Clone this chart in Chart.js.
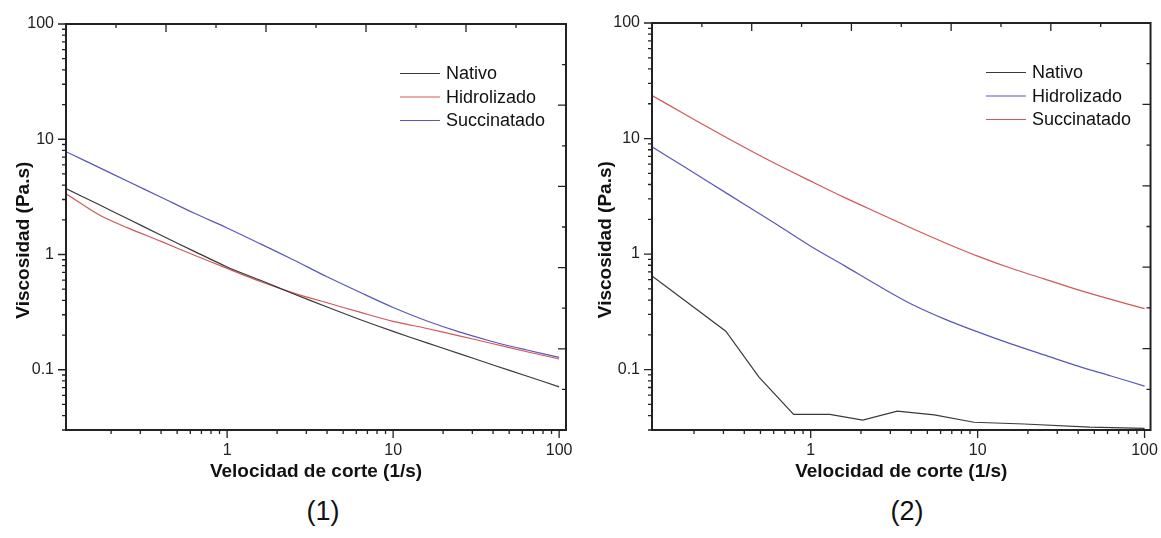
<!DOCTYPE html>
<html>
<head>
<meta charset="utf-8">
<script src="https://cdn.jsdelivr.net/npm/chart.js@4.4.1/dist/chart.umd.min.js"></script>
<style>
  body { margin: 0; background: #fff; width: 1161px; height: 538px; position: relative; overflow: hidden; font-family: "Liberation Sans", Arial, sans-serif; }
  canvas { position: absolute; top: 0; }
  #chart1 { left: 0; }
  #chart2 { left: 580px; }
  .caption { position: absolute; top: 496px; font-size: 27px; line-height: 30px; color: #111; transform: translateX(-50%); }
</style>
</head>
<body>
<canvas id="chart1" width="580" height="490"></canvas>
<canvas id="chart2" width="581" height="490"></canvas>
<div class="caption" style="left:323px">(1)</div>
<div class="caption" style="left:907px">(2)</div>
<script>
// (1) shear rate vs viscosity
const shearRate1 = [0.107, 0.17, 0.25, 0.4, 0.63, 1, 1.6, 2.5, 4, 6.3, 10, 16, 25, 40, 63, 100];
const nativo1 = [3.73, 2.70, 2.05, 1.47, 1.07, 0.78, 0.594, 0.457, 0.35, 0.273, 0.215, 0.171, 0.138, 0.110, 0.0887, 0.071];
const hidrolizado1 = [3.37, 2.2, 1.71, 1.30, 0.99, 0.757, 0.58, 0.465, 0.381, 0.316, 0.263, 0.228, 0.197, 0.168, 0.144, 0.124];
const succinatado1 = [7.8, 5.67, 4.34, 3.14, 2.29, 1.70, 1.23, 0.90, 0.64, 0.47, 0.347, 0.265, 0.213, 0.175, 0.149, 0.128];

// (2)
const shearRate2 = [0.112, 0.17, 0.25, 0.4, 0.63, 1, 1.6, 2.5, 4, 6.3, 10, 16, 25, 40, 63, 100];
const nativoShear2 = [0.112, 0.31, 0.49, 0.79, 1.3, 2.05, 3.3, 5.5, 9.5, 19, 47, 100];
const nativo2 = [0.645, 0.215, 0.086, 0.041, 0.041, 0.0366, 0.0437, 0.0405, 0.035, 0.0338, 0.0318, 0.031];
const hidrolizado2 = [8.5, 5.83, 4.12, 2.70, 1.79, 1.17, 0.79, 0.54, 0.37, 0.275, 0.212, 0.166, 0.134, 0.107, 0.088, 0.072];
const succinatado2 = [23.6, 16.7, 12.2, 8.4, 5.95, 4.28, 3.08, 2.29, 1.68, 1.26, 0.96, 0.75, 0.61, 0.49, 0.405, 0.337];

const seriesNames = ['Nativo', 'Hidrolizado', 'Succinatado'];
const xTickValues = [1, 10, 100];
const yTickValues = [0.1, 1, 10, 100];

const BLACK = '#3a3a3a';
const RED = '#d25858';
const BLUE = '#5858bc';
const FONT = '"Liberation Sans", Arial, sans-serif';

Chart.defaults.font.family = FONT;

function points(xs, ys) {
  return xs.map((x, i) => ({ x: x, y: ys[i] }));
}

function logMarks(scale) {
  const out = [];
  const e0 = Math.floor(Math.log10(scale.min));
  const e1 = Math.ceil(Math.log10(scale.max));
  for (let e = e0; e <= e1; e++) {
    for (let k = 1; k <= 9; k++) {
      const v = k * Math.pow(10, e);
      if (v >= scale.min * 0.999 && v <= scale.max * 1.001) out.push([v, k === 1]);
    }
  }
  return out;
}

// box round the plot, outward log ticks, inward ticks on top/right
const frameTicks = {
  id: 'frameTicks',
  afterDraw(chart) {
    const { ctx, chartArea: a } = chart;
    const xs = chart.scales.x, ys = chart.scales.y;
    const w = a.right - a.left, h = a.bottom - a.top;
    ctx.save();
    ctx.strokeStyle = '#222';
    ctx.lineWidth = 2;
    ctx.strokeRect(a.left, a.top, w, h);
    ctx.lineWidth = 1.3;
    ctx.beginPath();
    logMarks(xs).forEach(([v, major]) => {
      const px = xs.getPixelForValue(v);
      ctx.moveTo(px, a.bottom);
      ctx.lineTo(px, a.bottom + (major ? 8 : 4));
    });
    logMarks(ys).forEach(([v, major]) => {
      const py = ys.getPixelForValue(v);
      ctx.moveTo(a.left, py);
      ctx.lineTo(a.left - (major ? 8 : 4), py);
    });
    for (let i = 1; i < 10; i++) {
      const len = i % 2 ? 4 : 8;
      const px = a.left + i * w / 10;
      const py = a.top + i * h / 10;
      ctx.moveTo(px, a.top);
      ctx.lineTo(px, a.top + len);
      ctx.moveTo(a.right, py);
      ctx.lineTo(a.right - len, py);
    }
    ctx.stroke();
    ctx.restore();
  }
};

// legend drawn inside the plot, top right
const insideLegend = {
  id: 'insideLegend',
  afterDraw(chart) {
    const { ctx, chartArea: a } = chart;
    ctx.save();
    ctx.font = '18px ' + FONT;
    ctx.textBaseline = 'middle';
    ctx.fillStyle = '#111';
    chart.data.datasets.forEach((ds, i) => {
      const y = a.top + 49.5 + i * 23.5;
      ctx.strokeStyle = ds.borderColor;
      ctx.lineWidth = 1.2;
      ctx.beginPath();
      ctx.moveTo(a.left + 334, y);
      ctx.lineTo(a.left + 374, y);
      ctx.stroke();
      ctx.fillText(ds.label, a.left + 380, y + 1);
    });
    ctx.restore();
  }
};

function makeChart(id, datasets, xMin, xMax, pad, yWidth, yTitlePad) {
  return new Chart(document.getElementById(id), {
    type: 'line',
    data: { datasets: datasets },
    options: {
      responsive: false,
      animation: false,
      layout: { padding: { top: pad.top, right: pad.right, left: 0, bottom: 0 } },
      plugins: { legend: { display: false }, tooltip: { enabled: false } },
      elements: { point: { radius: 0 }, line: { borderWidth: 1.2 } },
      scales: {
        x: {
          type: 'logarithmic',
          min: xMin,
          max: xMax,
          afterBuildTicks: s => { s.ticks = xTickValues.map(v => ({ value: v })); },
          afterFit: s => { s.height = 60; },
          grid: { drawOnChartArea: false, drawTicks: true, tickLength: 8, color: 'rgba(0,0,0,0)' },
          border: { display: false },
          ticks: { autoSkip: false, maxRotation: 0, padding: 3, color: '#222', font: { size: 16 }, callback: v => String(v) },
          title: { display: true, text: 'Velocidad de corte (1/s)', color: '#111', font: { size: 19, weight: 'bold' }, padding: { top: 0, bottom: 7 } }
        },
        y: {
          type: 'logarithmic',
          min: 0.03,
          max: 100,
          afterBuildTicks: s => { s.ticks = yTickValues.map(v => ({ value: v })); },
          afterFit: s => { s.width = yWidth; },
          grid: { drawOnChartArea: false, drawTicks: true, tickLength: 8, color: 'rgba(0,0,0,0)' },
          border: { display: false },
          ticks: { autoSkip: false, padding: 4, color: '#222', font: { size: 16 }, callback: v => String(v) },
          title: { display: true, text: 'Viscosidad (Pa.s)' + '\u00a0'.repeat(5), color: '#111', font: { size: 19, weight: 'bold' }, padding: { top: yTitlePad, bottom: 0 } }
        }
      }
    },
    plugins: [frameTicks, insideLegend]
  });
}

function series(label, xs, ys, color, tension) {
  return { label: label, data: points(xs, ys), borderColor: color, backgroundColor: color, fill: false, tension: tension };
}

makeChart('chart1', [
  series(seriesNames[0], shearRate1, nativo1, BLACK, 0.3),
  series(seriesNames[1], shearRate1, hidrolizado1, RED, 0.3),
  series(seriesNames[2], shearRate1, succinatado1, BLUE, 0.3)
], 0.107, 110, { top: 24, right: 14 }, 66, 12);

makeChart('chart2', [
  series(seriesNames[0], nativoShear2, nativo2, BLACK, 0),
  series(seriesNames[1], shearRate2, hidrolizado2, BLUE, 0.3),
  series(seriesNames[2], shearRate2, succinatado2, RED, 0.3)
], 0.112, 108.6, { top: 23, right: 8 }, 72, 14);
</script>
</body>
</html>
